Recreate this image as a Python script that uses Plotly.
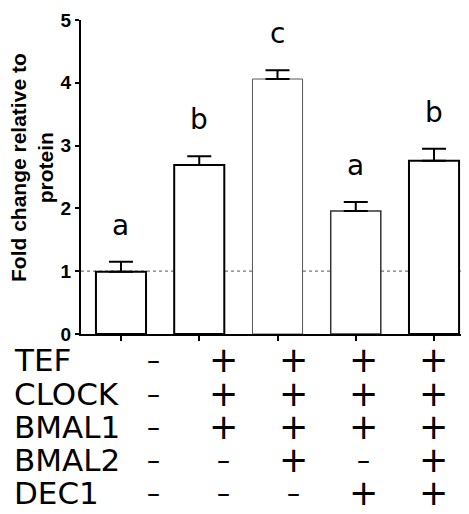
import plotly.graph_objects as go

# ---- data ----
conditions = ["1", "2", "3", "4", "5"]
fold_change = [0.99, 2.69, 4.06, 1.96, 2.76]
sem = [0.16, 0.14, 0.14, 0.14, 0.19]
sig_letters = ["a", "b", "c", "a", "b"]
row_labels = ["TEF", "CLOCK", "BMAL1", "BMAL2", "DEC1"]
row_symbols = [
    ["-", "+", "+", "+", "+"],
    ["-", "+", "+", "+", "+"],
    ["-", "+", "+", "+", "+"],
    ["-", "-", "+", "-", "+"],
    ["-", "-", "-", "+", "+"],
]
y_ticks = [0, 1, 2, 3, 4, 5]

# ---- layout constants ----
OFF = 8  # browser default body margin
W, H = 469, 514
ML, MR, MT, MB = 81, 0, 20, 180
FW, FH = W - OFF, H - OFF
PW, PH = W - ML - MR, H - MT - MB
x_idx = list(range(len(conditions)))
x_range = [-0.511, 4.447]
line_widths = [2, 2, 1, 1.5, 2]
line_colors = ["#000000", "#000000", "#555555", "#333333", "#000000"]


def px_to_paper_x(px):
    return (px - ML) / PW


def px_to_paper_y(py):
    return (H - MB - py) / PH


fig = go.Figure()
fig.add_trace(go.Bar(
    x=x_idx, y=fold_change, width=0.64,
    marker=dict(color="white", line=dict(color=line_colors, width=line_widths)),
    error_y=dict(type="data", symmetric=False, array=sem,
                 arrayminus=[0] * len(sem), color="black", thickness=2, width=12),
    showlegend=False,
))

annotations = []
# significance letters
for i, (v, e, L) in enumerate(zip(fold_change, sem, sig_letters)):
    annotations.append(dict(x=i, y=v + e + 0.58, xref="x", yref="y", text=L,
                            showarrow=False, yanchor="middle",
                            font=dict(family="DejaVu Sans", size=28, color="black")))

# table
row_centers_px = [360, 394, 427, 460, 493]
col_px = [153, 223, 293, 363, 433]
for r, (lab, syms) in enumerate(zip(row_labels, row_symbols)):
    yp = px_to_paper_y(row_centers_px[r])
    annotations.append(dict(x=px_to_paper_x(12), y=yp, xref="paper", yref="paper",
                            text=lab, showarrow=False, xanchor="left", yanchor="middle",
                            font=dict(family="DejaVu Sans", size=31, color="black")))
    for c, s in enumerate(syms):
        if s == "-":
            txt, fs = "\u2013", 26
        else:
            txt, fs = "+", 35
        annotations.append(dict(x=px_to_paper_x(col_px[c]), y=yp, xref="paper", yref="paper",
                                text=txt, showarrow=False, xanchor="center", yanchor="middle",
                                font=dict(family="DejaVu Sans", size=fs, color="black")))

# y-axis title
annotations.append(dict(x=px_to_paper_x(32), y=px_to_paper_y(168), xref="paper", yref="paper",
                        text="Fold change relative to<br>protein", textangle=-90,
                        showarrow=False, xanchor="center", yanchor="middle",
                        font=dict(family="Liberation Sans", size=21, color="black", weight="bold")))

fig.update_layout(
    width=FW, height=FH,
    margin=dict(l=ML - OFF, r=MR, t=MT - OFF, b=MB, pad=0),
    plot_bgcolor="white", paper_bgcolor="white",
    annotations=annotations,
    shapes=[dict(type="line", xref="paper", yref="y", x0=0, x1=1, y0=1, y1=1,
                 line=dict(color="#777777", width=1.2, dash="dot"), layer="below")],
    xaxis=dict(range=x_range, showline=True, linecolor="black", linewidth=2,
               ticks="outside", ticklen=5, tickwidth=1.5, tickcolor="black",
               tickvals=x_idx, showticklabels=False, showgrid=False, zeroline=False,
               fixedrange=True),
    yaxis=dict(range=[0, 5], tickvals=y_ticks, showline=True, linecolor="black", linewidth=2,
               ticks="outside", ticklen=4, tickwidth=1.5, tickcolor="black",
               showgrid=False, zeroline=False,
               tickfont=dict(family="Liberation Sans", size=19, color="black", weight="bold")),
)

fig.write_html("out.html")
